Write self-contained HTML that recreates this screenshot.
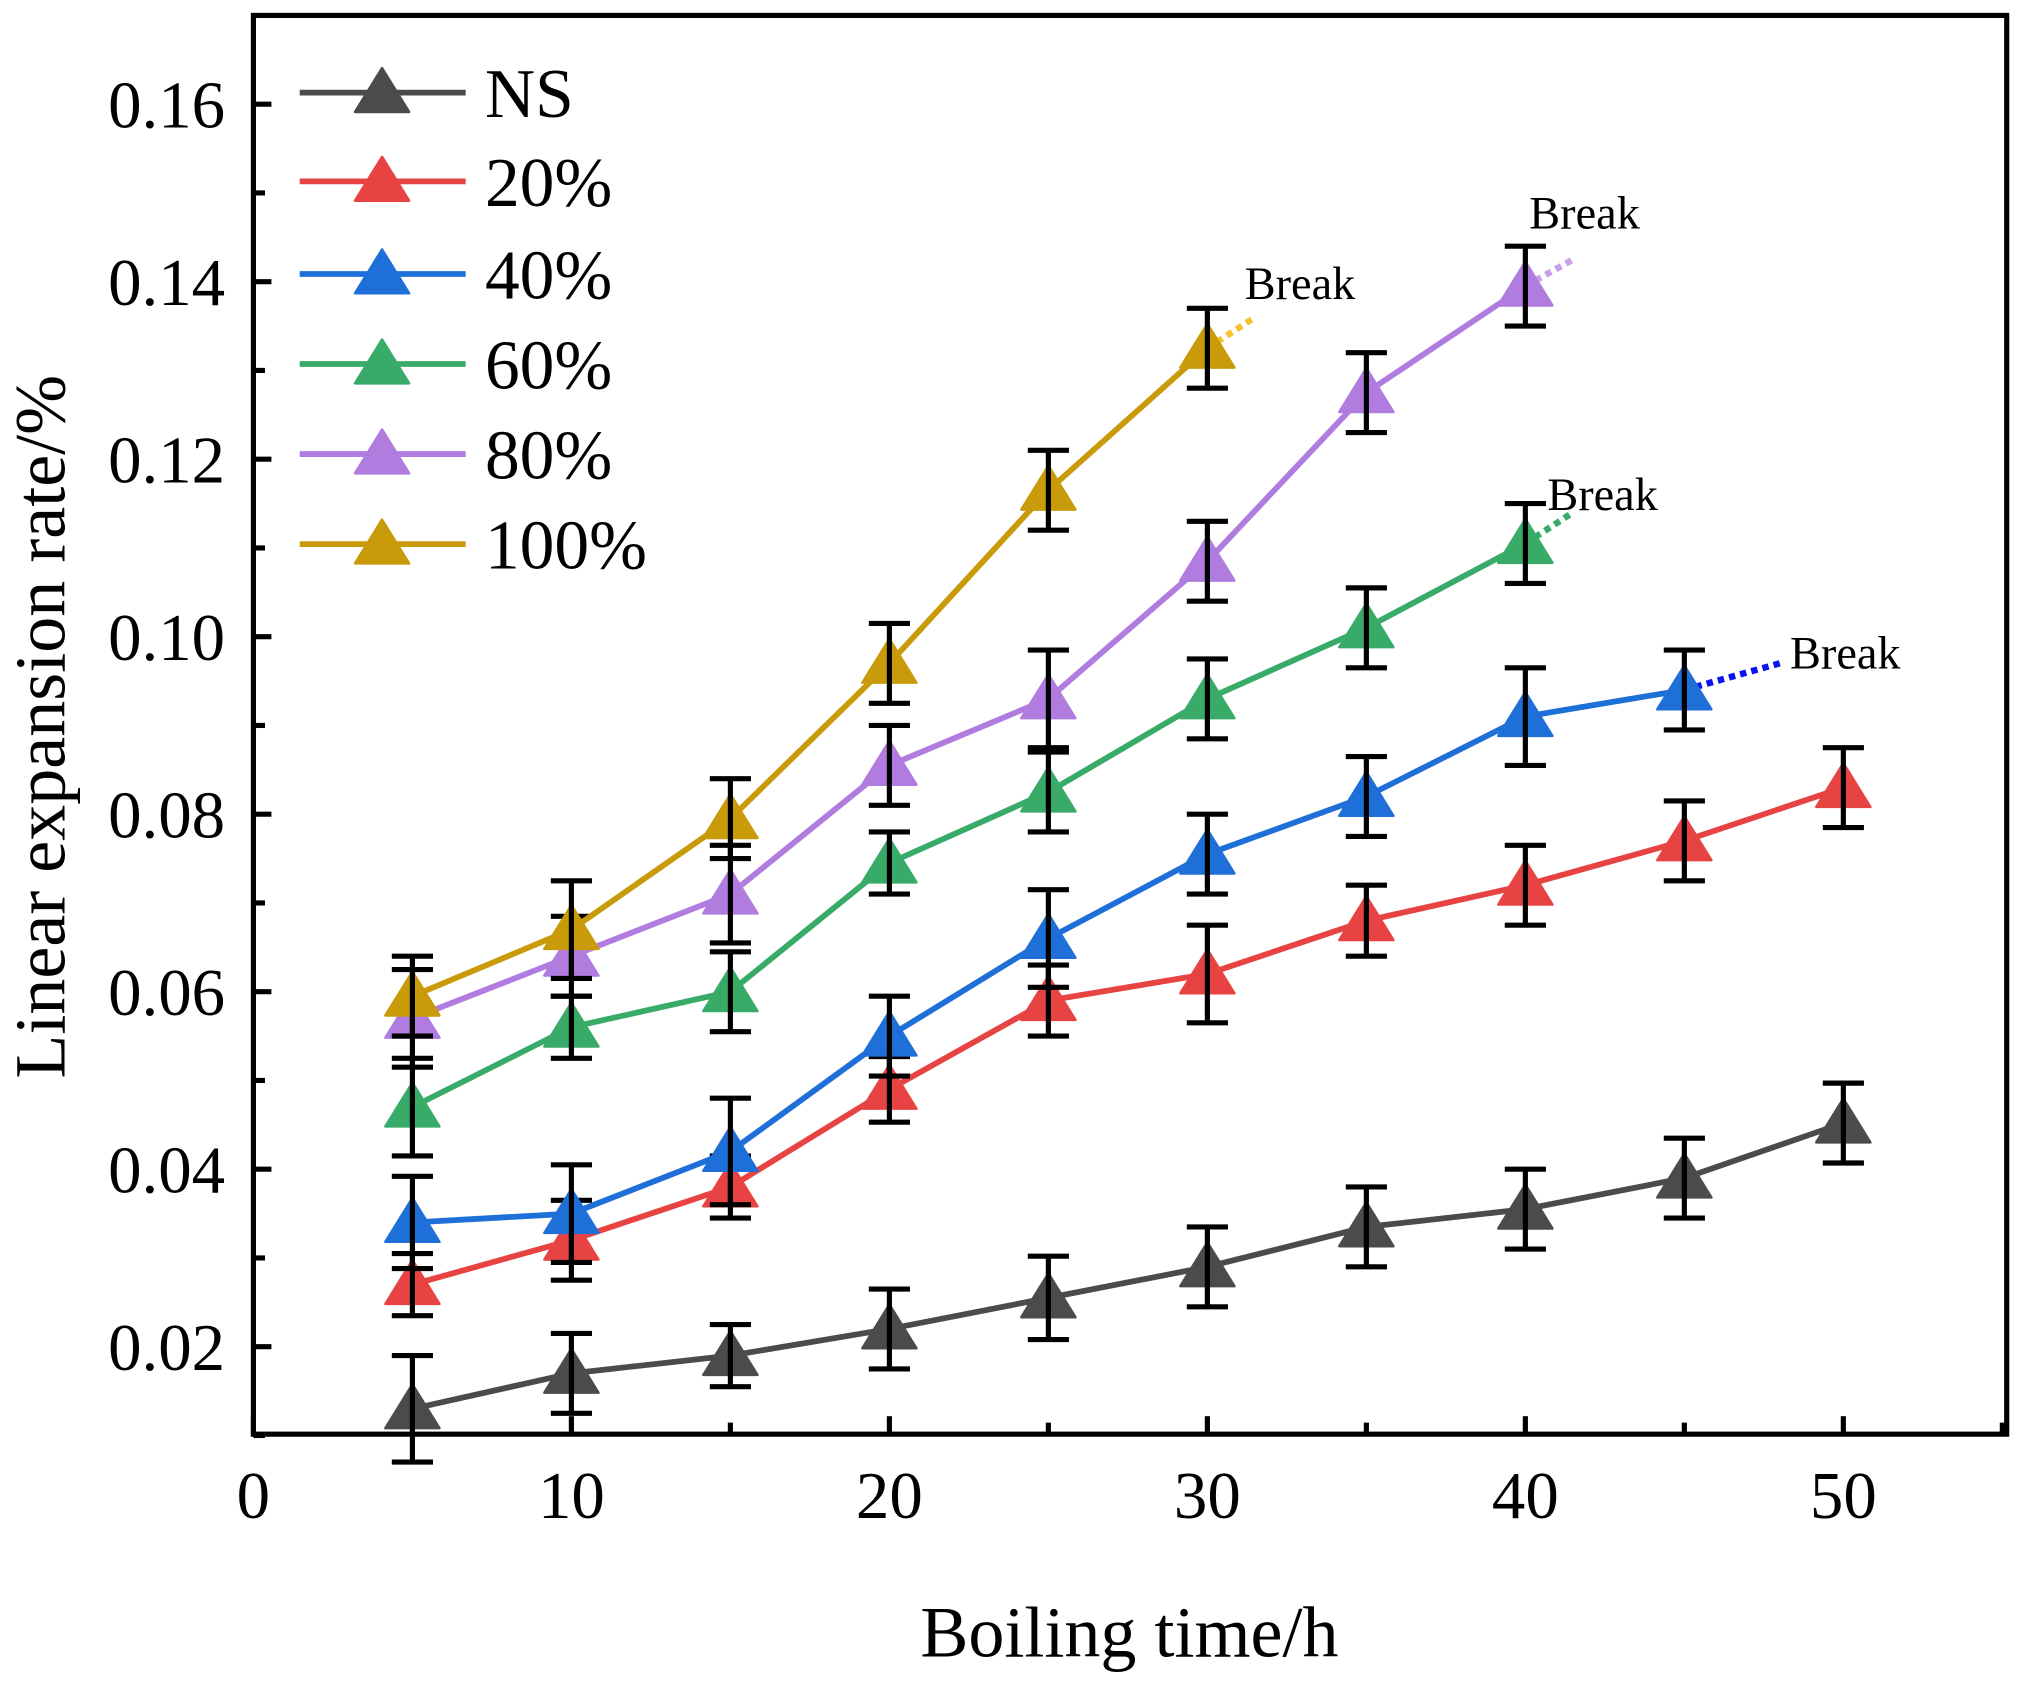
<!DOCTYPE html>
<html><head><meta charset="utf-8"><style>html,body{margin:0;padding:0;background:#fff}svg{display:block}</style></head>
<body>
<svg id="chart" width="2017" height="1685" viewBox="0 0 1568 1310" preserveAspectRatio="none" xmlns="http://www.w3.org/2000/svg" font-family="'Liberation Serif', serif">
<g id="grid"></g>
<g id="series"></g>
<g id="legend"></g>
</svg>
<script>
const xVals=[5,10,15,20,25,30,35,40,45,50];
const seriesNames=["NS","20%","40%","60%","80%","100%"];
const valsNS=[0.013,0.017,0.019,0.022,0.0255,0.029,0.0335,0.0355,0.039,0.0452];
const errNS=[0.006,0.0045,0.0035,0.0045,0.0047,0.0045,0.0045,0.0045,0.0045,0.0045];
const vals20=[0.027,0.032,0.038,0.049,0.059,0.062,0.068,0.072,0.077,0.083];
const err20=[0.0035,0.0045,0.0035,0.0037,0.004,0.0055,0.004,0.0045,0.0045,0.0045];
const vals40=[0.034,0.035,0.042,0.055,0.066,0.0755,0.082,0.091,0.094];
const err40=[0.0052,0.0055,0.006,0.0045,0.0055,0.0045,0.0045,0.0055,0.0045];
const vals60=[0.047,0.056,0.060,0.0745,0.0825,0.093,0.101,0.1105];
const err60=[0.0055,0.0035,0.0045,0.0035,0.0045,0.0045,0.0045,0.0045];
const vals80=[0.057,0.064,0.071,0.0855,0.093,0.1085,0.1275,0.1395];
const err80=[0.0055,0.0045,0.0055,0.0045,0.0055,0.0045,0.0045,0.0045];
const vals100=[0.0595,0.067,0.0795,0.097,0.1165,0.1325];
const err100=[0.0045,0.0055,0.0045,0.0045,0.0045,0.0045];
const breakEnds=[null,null,[48,0.097],[41.5,0.114],[41.5,0.1425],[31.5,0.136]];
const xTicks=[0,10,20,30,40,50];
const yTicks=[0.02,0.04,0.06,0.08,0.10,0.12,0.14,0.16];
const yTickLabels=["0.02","0.04","0.06","0.08","0.10","0.12","0.14","0.16"];

const colors=["#4b4b4b","#e84343","#1f6fd8","#38ab69","#b07cdf","#c99b0a"];
const breakColors=[null,null,"#0a14f0","#38ab69","#c9a0ee","#f5c232"];
const labelOff=[null,null,[8,4],[-20,-2],[-34,-24],[-8,-14]];
const allVals=[valsNS,vals20,vals40,vals60,vals80,vals100];
const allErr=[errNS,err20,err40,err60,err80,err100];
const L=197,R=1560,T=12,B=1115;
const X=v=>197+v*24.72;
const Y=v=>1047-(v-0.02)*6900;
const NS="http://www.w3.org/2000/svg";
function mk(tag,attrs,parent,text){const e=document.createElementNS(NS,tag);for(const k in attrs)e.setAttribute(k,attrs[k]);if(text!==undefined)e.textContent=text;parent.appendChild(e);return e;}
const grid=document.getElementById('grid'),ser=document.getElementById('series'),leg=document.getElementById('legend');
for(let v=0;v<=55;v+=5){const len=(v%10===0)?14:9;const t=mk('line',{x1:X(v),x2:X(v),y1:B,y2:B-len,stroke:'#000','stroke-width':4},grid);

}
for(let i=0;i<=16;i++){const v=0.01+i*0.01;const y=Y(v);if(y<T)continue;const len=(i%2===1)?14:9;const t=mk('line',{x1:L,x2:L+len,y1:y,y2:y,stroke:'#000','stroke-width':4},grid);

}
xTicks.forEach(v=>{const t=mk('text',{x:X(v),y:1180,'text-anchor':'middle','font-size':52},grid,String(v));

});
yTicks.forEach((v,i)=>{const t=mk('text',{x:175,y:Y(v)+18,'text-anchor':'end','font-size':52},grid,yTickLabels[i]);

});
const xt=mk('text',{x:878,y:1288,'text-anchor':'middle','font-size':56},grid,'Boiling time/h');


const yt=mk('text',{x:0,y:0,'text-anchor':'middle','font-size':56,transform:'translate(50,565) rotate(-90)'},grid,'Linear expansion rate/%');


function tri(x,y,c,p){return mk('polygon',{points:`${x},${y-19} ${x-21},${y+15} ${x+21},${y+15}`,fill:c,'stroke-linejoin':'round',stroke:c,'stroke-width':2},p);}
allVals.forEach((vals,s)=>{
  const g=mk('g',{},ser);
  
  
  const n=vals.length;
  if(breakEnds[s]){const lx=X(xVals[n-1]),ly=Y(vals[n-1]);const d=mk('line',{x1:lx,y1:ly,x2:X(breakEnds[s][0]),y2:Y(breakEnds[s][1]),stroke:breakColors[s],'stroke-width':5,'stroke-dasharray':'5 4'},g);
    
    
    const bt=mk('text',{x:X(breakEnds[s][0])+labelOff[s][0],y:Y(breakEnds[s][1])+labelOff[s][1],'font-size':36},g,'Break');
    
    }
  const pts=vals.map((v,i)=>X(xVals[i])+','+Y(v)).join(' ');
  const pl=mk('polyline',{points:pts,fill:'none',stroke:colors[s],'stroke-width':4.5},g);
  
  
  vals.forEach((v,i)=>{const m=tri(X(xVals[i]),Y(v),colors[s],g);
    
    });
  vals.forEach((v,i)=>{const x=X(xVals[i]),e=allErr[s][i];const y1=Y(v+e),y2=Y(v-e);
    const eb=mk('path',{d:`M${x},${y1}V${y2}M${x-16},${y1}H${x+16}M${x-16},${y2}H${x+16}`,stroke:'#000','stroke-width':4,fill:'none'},g);
    
    });
});
const frame=mk('rect',{x:L,y:T,width:R-L,height:B-T,fill:'none',stroke:'#000','stroke-width':4},grid);


const legY=[72,141,213,283,353,423];
seriesNames.forEach((nm,s)=>{const g=mk('g',{},leg);
  
  
  mk('line',{x1:233,x2:362,y1:legY[s],y2:legY[s],stroke:colors[s],'stroke-width':4.5},g);
  tri(297,legY[s],colors[s],g);
  mk('text',{x:377,y:legY[s]+19,'font-size':54},g,nm);});
</script>
</body></html>
